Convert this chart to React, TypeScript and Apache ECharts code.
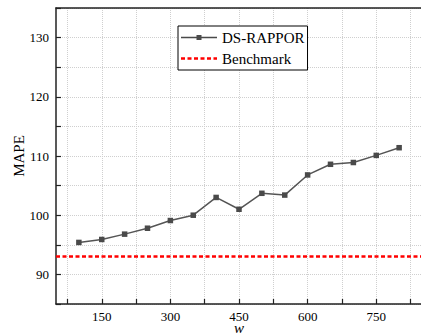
import React, { useEffect, useRef } from "react";
import * as echarts from "echarts";

const wValues = [100, 150, 200, 250, 300, 350, 400, 450, 500, 550, 600, 650, 700, 750, 800];
const dsRappor = [95.4, 95.9, 96.8, 97.8, 99.1, 100.0, 103.0, 101.0, 103.7, 103.4, 106.8, 108.6, 108.9, 110.1, 111.4];
const benchmarkValue = 93.1;
const xTickValues = [75, 150, 225, 300, 375, 450, 525, 600, 675, 750, 825];
const xLabelValues = [150, 300, 450, 600, 750];
const seriesNames = ["DS-RAPPOR", "Benchmark"];

const FONT = "'Liberation Serif', 'Times New Roman', serif";

const ICON_SOLID = "path://M0,2.25h36v1.5h-36z M15.5,0.5h5v5h-5z";
const ICON_DASHED =
  "path://M0,0h4v2.5h-4z M6.5,0h4v2.5h-4z M13,0h4v2.5h-4z M19.5,0h4v2.5h-4z M26,0h4v2.5h-4z M32.5,0h3.5v2.5h-3.5z";

export default function App() {
  const ref = useRef<HTMLDivElement>(null);
  useEffect(() => {
    if (!ref.current) return;
    const chart = echarts.init(ref.current, undefined, { renderer: "svg" });
    const gridLine = { show: true, lineStyle: { color: "#cfcfcf", type: "dotted", width: 1 } };
    chart.setOption({
      animation: false,
      backgroundColor: "#fff",
      grid: {
        left: 56,
        top: 8,
        width: 366,
        height: 296,
        containLabel: false,
        outerBoundsMode: "none",
      },
      legend: {
        orient: "vertical",
        left: 178,
        top: 26,
        padding: [4, 3, 4, 3],
        itemWidth: 36,
        itemHeight: 14,
        itemGap: 6,
        symbolKeepAspect: true,
        borderColor: "#000",
        borderWidth: 1,
        borderRadius: 0,
        backgroundColor: "#fff",
        textStyle: { fontFamily: FONT, fontSize: 15, color: "#000" },
        data: [
          { name: seriesNames[0], icon: ICON_SOLID },
          { name: seriesNames[1], icon: ICON_DASHED },
        ],
      },
      xAxis: [
        {
          type: "value",
          min: 50,
          max: 850,
          position: "bottom",
          name: "w",
          nameLocation: "middle",
          nameGap: 20,
          nameMoveOverlap: false,
          nameTextStyle: { fontFamily: FONT, fontSize: 15, fontStyle: "italic", color: "#000", verticalAlign: "top", lineHeight: 8 },
          axisLine: { show: true, onZero: false, lineStyle: { color: "#222", width: 1.5 } },
          axisTick: { show: true, inside: true, length: 5, customValues: xTickValues, lineStyle: { color: "#222", width: 1.2 } },
          axisLabel: {
            customValues: xLabelValues,
            margin: 6,
            fontFamily: FONT,
            fontSize: 13,
            lineHeight: 12,
            color: "#000",
          },
          splitLine: gridLine,
        },
        {
          type: "value",
          min: 50,
          max: 850,
          position: "top",
          axisLine: { show: true, onZero: false, lineStyle: { color: "#222", width: 1.5 } },
          axisTick: { show: false },
          axisLabel: { show: false },
          splitLine: { show: false },
        },
      ],
      yAxis: {
        type: "value",
        min: 85,
        max: 135,
        interval: 5,
        name: "MAPE",
        nameLocation: "middle",
        nameGap: 30,
        nameMoveOverlap: false,
        nameTextStyle: { fontFamily: FONT, fontSize: 15, color: "#000" },
        axisLine: { show: true, onZero: false, lineStyle: { color: "#222", width: 1.5 } },
        axisTick: { show: true, inside: true, length: 5, lineStyle: { color: "#222", width: 1.2 } },
        axisLabel: {
          margin: 7,
          fontFamily: FONT,
          fontSize: 13,
          color: "#000",
          formatter: (v: number) => (v % 10 === 0 ? String(v) : ""),
        },
        splitLine: gridLine,
      },
      series: [
        {
          name: seriesNames[0],
          type: "line",
          xAxisIndex: 0,
          data: wValues.map((w, i) => [w, dsRappor[i]]),
          symbol: "rect",
          symbolSize: 5.5,
          itemStyle: { color: "#4a4a4a" },
          lineStyle: { color: "#555", width: 1.5 },
          z: 3,
        },
        {
          name: seriesNames[1],
          type: "line",
          xAxisIndex: 0,
          data: [],
          symbol: "none",
          itemStyle: { color: "#ff0000" },
          lineStyle: { color: "#ff0000", width: 2.5, type: [4, 2.5] },
          markLine: {
            silent: true,
            symbol: "none",
            label: { show: false },
            lineStyle: { color: "#ff0000", width: 2.5, type: [4, 2.5] },
            data: [{ yAxis: benchmarkValue }],
          },
          z: 2,
        },
      ],
    });
    return () => chart.dispose();
  }, []);
  return (
    <div
      ref={ref}
      style={{ position: "fixed", left: 0, top: 0, width: 421, height: 335 }}
    />
  );
}
